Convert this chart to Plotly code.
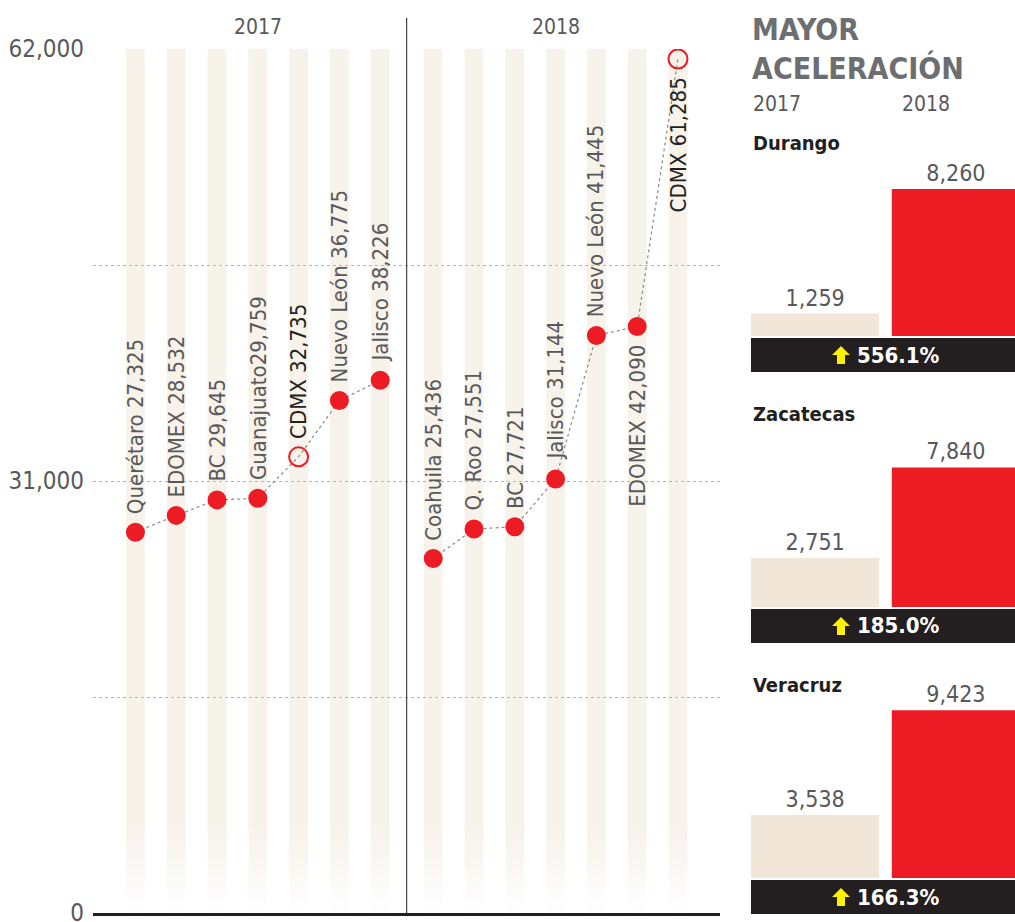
import plotly.graph_objects as go

# ---------------- data ----------------
years = ["2017", "2018"]
states_2017 = ["Querétaro", "EDOMEX", "BC", "Guanajuato", "CDMX", "Nuevo León", "Jalisco"]
values_2017 = [27325, 28532, 29645, 29759, 32735, 36775, 38226]
states_2018 = ["Coahuila", "Q. Roo", "BC", "Jalisco", "Nuevo León", "EDOMEX", "CDMX"]
values_2018 = [25436, 27551, 27721, 31144, 41445, 42090, 61285]

y_tickvals = [0, 15500, 31000, 46500, 62000]
y_ticktext = ["0", "", "31,000", "", "62,000"]

accel_states = ["Durango", "Zacatecas", "Veracruz"]
accel_2017 = [1259, 2751, 3538]
accel_2018 = [8260, 7840, 9423]

panel_title = "MAYOR<br>ACELERACIÓN"

# ---------------- styles ----------------
W, H = 1015, 922
FONT = "DejaVu Sans Condensed, Liberation Sans Narrow, sans-serif"
RED = "#ed1c24"
BEIGE = "#f2e6d8"
STRIPE = "#f7f2ea"
GRAY_TXT = "#58595b"
DARK = "#231f20"
YELLOW = "#fff200"
HIGHLIGHT = {"CDMX"}
NO_SPACE = {"Guanajuato"}
BELOW = {("2018", "EDOMEX"), ("2018", "CDMX")}
GROUP_GAP = 0.3


def px_x(p):
    return p / W


def px_y(p):
    return (H - p) / H


fig = go.Figure()

groups = [
    ("2017", states_2017, values_2017, [i for i in range(len(states_2017))]),
    ("2018", states_2018, values_2018,
     [len(states_2017) + GROUP_GAP + i for i in range(len(states_2018))]),
]

shapes = []
annotations = []

# background stripes with fade at the bottom
fade_levels = [6000, 5200, 4500, 3900, 3300, 2800, 2300, 1800, 1300, 800, 0]
for yr, names, vals, xs in groups:
    for x in xs:
        shapes.append(dict(type="rect", xref="x", yref="y", x0=x - 0.23, x1=x + 0.23,
                           y0=fade_levels[0], y1=y_tickvals[-1], fillcolor=STRIPE,
                           line=dict(width=0), layer="below"))
        n = len(fade_levels) - 1
        for k in range(n):
            shapes.append(dict(type="rect", xref="x", yref="y", x0=x - 0.23, x1=x + 0.23,
                               y0=fade_levels[k + 1], y1=fade_levels[k], fillcolor=STRIPE,
                               opacity=max(0.0, 1 - (k + 1) / (n + 0.5)),
                               line=dict(width=0), layer="below"))

for yr, names, vals, xs in groups:
    fig.add_trace(go.Scatter(
        x=xs, y=vals, mode="lines+markers", opacity=1,
        line=dict(color="#8a8a8a", width=1.2, dash="dot"),
        marker=dict(
            size=[19 if n in HIGHLIGHT else 17 for n in names],
            symbol=["circle-open" if n in HIGHLIGHT else "circle" for n in names],
            color=RED, opacity=1,
            line=dict(color=RED, width=2),
        ),
        hoverinfo="skip", showlegend=False, xaxis="x", yaxis="y",
    ))
    for n, v, x in zip(names, vals, xs):
        sep = "" if n in NO_SPACE else " "
        below = (yr, n) in BELOW
        annotations.append(dict(
            x=x, y=v, xref="x", yref="y", text=f"{n}{sep}{v:,}",
            textangle=-90, showarrow=False,
            xanchor="center", yanchor="top" if below else "bottom",
            yshift=-16 if below else 16,
            font=dict(family=FONT, size=22, color=DARK if n in HIGHLIGHT else GRAY_TXT),
        ))
    annotations.append(dict(
        x=sum(xs) / len(xs), y=px_y(27), xref="x", yref="paper", text=yr,
        showarrow=False, xanchor="center", yanchor="middle",
        font=dict(family=FONT, size=21, color=GRAY_TXT),
    ))

# divider between years
div_x = (groups[0][3][-1] + groups[1][3][0]) / 2
shapes.append(dict(type="line", xref="x", yref="paper", x0=div_x, x1=div_x,
                   y0=px_y(913), y1=px_y(18), line=dict(color=DARK, width=1)))

# ---------------- right panel ----------------
annotations.append(dict(
    x=px_x(750), y=px_y(10), xref="paper", yref="paper", text=f"<b>{panel_title}</b>",
    showarrow=False, xanchor="left", yanchor="top", align="left",
    font=dict(family=FONT, size=30, color="#6d6e71"),
))
annotations.append(dict(x=px_x(751), y=px_y(104), xref="paper", yref="paper", text=years[0],
                        showarrow=False, xanchor="left", yanchor="middle",
                        font=dict(family=FONT, size=21, color=GRAY_TXT)))
annotations.append(dict(x=px_x(900), y=px_y(104), xref="paper", yref="paper", text=years[1],
                        showarrow=False, xanchor="left", yanchor="middle",
                        font=dict(family=FONT, size=21, color=GRAY_TXT)))

panel_bottoms = [336, 607, 878]
PANEL_H = 175
YMAX = PANEL_H / 0.0178
layout_axes = {}
for i, (st, a, b) in enumerate(zip(accel_states, accel_2017, accel_2018)):
    k = i + 2
    bottom = panel_bottoms[i]
    fig.add_trace(go.Bar(
        x=years, y=[a, b], marker=dict(color=[BEIGE, RED], line=dict(width=0)),
        text=[f"{a:,}", f"{b:,}"], textposition="outside", cliponaxis=False,
        textfont=dict(family=FONT, size=23, color=GRAY_TXT),
        hoverinfo="skip", showlegend=False, xaxis=f"x{k}", yaxis=f"y{k}",
    ))
    layout_axes[f"xaxis{k}"] = dict(domain=[px_x(744.7), 1], range=[-0.5, 1.42],
                                    visible=False, fixedrange=True, automargin=False)
    layout_axes[f"yaxis{k}"] = dict(domain=[px_y(bottom), px_y(bottom - PANEL_H)],
                                    range=[0, YMAX], visible=False, anchor=f"x{k}",
                                    automargin=False, fixedrange=True)
    annotations.append(dict(
        x=px_x(751), y=px_y(bottom - 193), xref="paper", yref="paper", text=f"<b>{st}</b>",
        showarrow=False, xanchor="left", yanchor="middle",
        font=dict(family=FONT, size=20, color=DARK),
    ))
    # black band with yellow arrow and percentage
    top, bot = bottom + 2, bottom + 36
    shapes.append(dict(type="rect", xref="paper", yref="paper",
                       x0=px_x(751), x1=1, y0=px_y(bot), y1=px_y(top),
                       fillcolor=DARK, line=dict(width=0), layer="above"))
    cx, cy = 841, (top + bot) / 2
    arrow_pts = [(cx, cy - 9), (cx + 9, cy), (cx + 4, cy), (cx + 4, cy + 9),
                 (cx - 4, cy + 9), (cx - 4, cy), (cx - 9, cy)]
    path = "M " + " L ".join(f"{px_x(px)},{px_y(py)}" for px, py in arrow_pts) + " Z"
    shapes.append(dict(type="path", xref="paper", yref="paper", path=path,
                       fillcolor=YELLOW, line=dict(width=0), layer="above"))
    pct = (b / a - 1) * 100
    annotations.append(dict(
        x=px_x(855), y=px_y(cy), xref="paper", yref="paper", text=f"<b>{pct:.1f}%</b>",
        showarrow=False, xanchor="left", yanchor="middle",
        font=dict(family=FONT, size=22, color="white"),
    ))

fig.update_layout(
    width=W, height=H,
    margin=dict(l=0, r=0, t=0, b=0, autoexpand=False),
    paper_bgcolor="white", plot_bgcolor="rgba(0,0,0,0)",
    bargap=0.09,
    xaxis=dict(domain=[px_x(93), px_x(720)], range=[-1.04, 14.33], showgrid=False,
               zeroline=False, showticklabels=False, ticks="", automargin=False,
               showline=True, linecolor=DARK, linewidth=3, fixedrange=True),
    yaxis=dict(domain=[px_y(913), px_y(49)], range=[0, 62000], tickvals=y_tickvals,
               ticktext=y_ticktext, showgrid=True, gridcolor="#b5b5b5", griddash="dot",
               gridwidth=1, zeroline=False, ticks="", ticklabelstandoff=8, automargin=False,
               ticklabeloverflow="allow",
               tickfont=dict(family=FONT, size=24, color=GRAY_TXT), fixedrange=True),
    shapes=shapes,
    annotations=annotations,
    **layout_axes,
)

fig.write_html(
    "out.html",
    config={"displayModeBar": False, "staticPlot": True},
    post_script="document.body.style.margin='0';document.body.style.overflow='hidden';",
)
